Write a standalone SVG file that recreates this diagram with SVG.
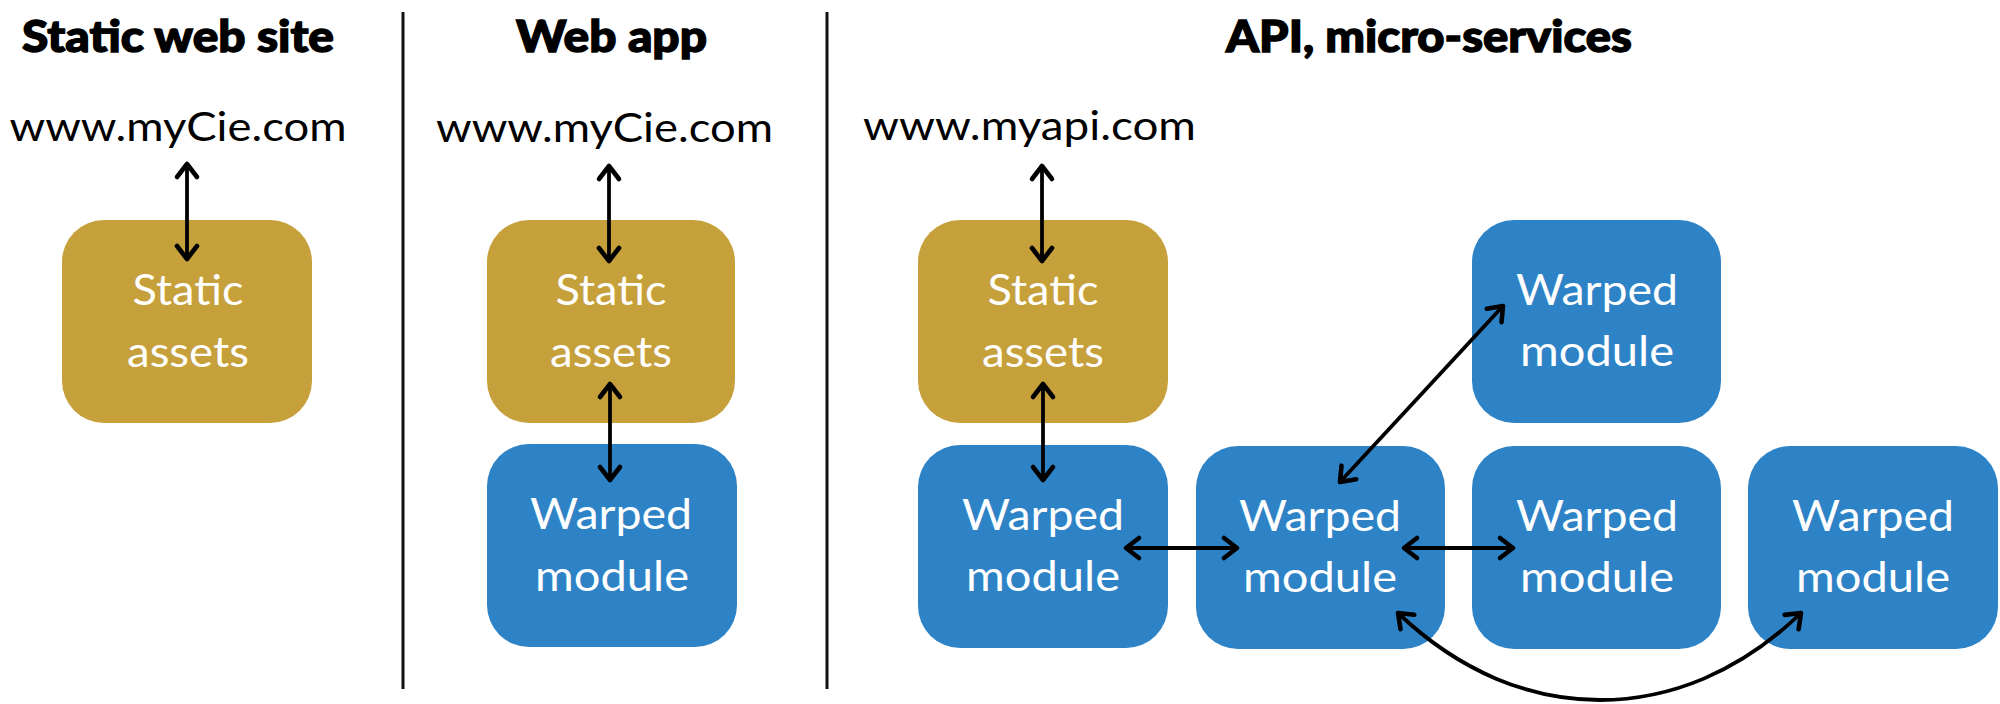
<svg xmlns="http://www.w3.org/2000/svg" width="2000" height="704" viewBox="0 0 2000 704">
<style>
.title{font-family:Lato,"Liberation Sans",sans-serif;font-weight:900;font-size:44px;fill:#000;stroke:#000;stroke-width:1.4;text-anchor:middle}
.url{font-family:Lato,"Liberation Sans",sans-serif;font-size:40px;fill:#000;text-anchor:middle}
.lbl{font-family:Lato,"Liberation Sans",sans-serif;font-size:43px;fill:#fff;text-anchor:middle}
.gold{fill:#C6A03A}
.blue{fill:#2E83C7}
.div{stroke:#111;stroke-width:3}
.conn{stroke:#000;stroke-width:3.8;fill:none;marker-start:url(#ah);marker-end:url(#ah)}
</style>
<defs>
<marker id="ah" viewBox="-18 -14 22 28" markerWidth="22" markerHeight="28" refX="0" refY="0" orient="auto-start-reverse" markerUnits="userSpaceOnUse">
<path d="M-13,-10 L0,0 L-13,10" fill="none" stroke="#000" stroke-width="4.6" stroke-linecap="round" stroke-linejoin="round"/>
</marker>
</defs>
<rect width="2000" height="704" fill="#fff"/>

<g id="dividers">
<line class="div" x1="403" y1="12" x2="403" y2="689"/>
<line class="div" x1="827" y1="12" x2="827" y2="689"/>
</g>

<g id="titles">
<text class="title" x="178" y="52" textLength="312" lengthAdjust="spacingAndGlyphs">Static web site</text>
<text class="title" x="611.5" y="52" textLength="191" lengthAdjust="spacingAndGlyphs">Web app</text>
<text class="title" x="1429" y="52" textLength="406" lengthAdjust="spacingAndGlyphs">API, micro-services</text>
</g>

<g id="url1"><text class="url" x="178" y="141" textLength="337" lengthAdjust="spacingAndGlyphs">www.myCie.com</text></g>
<g id="url2"><text class="url" x="604.5" y="142" textLength="337" lengthAdjust="spacingAndGlyphs">www.myCie.com</text></g>
<g id="url3"><text class="url" x="1029.5" y="140" textLength="333" lengthAdjust="spacingAndGlyphs">www.myapi.com</text></g>

<g id="static1">
<rect class="gold" x="62" y="220" width="250" height="203" rx="42"/>
<text class="lbl" x="188" y="305" textLength="111" lengthAdjust="spacingAndGlyphs">Static</text>
<text class="lbl" x="188" y="367" textLength="122" lengthAdjust="spacingAndGlyphs">assets</text>
</g>
<g id="static2">
<rect class="gold" x="487" y="220" width="248" height="203" rx="42"/>
<text class="lbl" x="611" y="305" textLength="111" lengthAdjust="spacingAndGlyphs">Static</text>
<text class="lbl" x="611" y="367" textLength="122" lengthAdjust="spacingAndGlyphs">assets</text>
</g>
<g id="warped_app">
<rect class="blue" x="487" y="444" width="250" height="203" rx="42"/>
<text class="lbl" x="611" y="529" textLength="162" lengthAdjust="spacingAndGlyphs">Warped</text>
<text class="lbl" x="612" y="591" textLength="154" lengthAdjust="spacingAndGlyphs">module</text>
</g>
<g id="static3">
<rect class="gold" x="918" y="220" width="250" height="203" rx="42"/>
<text class="lbl" x="1043" y="305" textLength="111" lengthAdjust="spacingAndGlyphs">Static</text>
<text class="lbl" x="1043" y="367" textLength="122" lengthAdjust="spacingAndGlyphs">assets</text>
</g>
<g id="warped1">
<rect class="blue" x="918" y="445" width="250" height="203" rx="42"/>
<text class="lbl" x="1043" y="530" textLength="162" lengthAdjust="spacingAndGlyphs">Warped</text>
<text class="lbl" x="1043" y="591" textLength="154" lengthAdjust="spacingAndGlyphs">module</text>
</g>
<g id="warped2">
<rect class="blue" x="1196" y="446" width="249" height="203" rx="42"/>
<text class="lbl" x="1320" y="531" textLength="162" lengthAdjust="spacingAndGlyphs">Warped</text>
<text class="lbl" x="1320" y="592" textLength="154" lengthAdjust="spacingAndGlyphs">module</text>
</g>
<g id="warped3">
<rect class="blue" x="1472" y="220" width="249" height="203" rx="42"/>
<text class="lbl" x="1597" y="305" textLength="162" lengthAdjust="spacingAndGlyphs">Warped</text>
<text class="lbl" x="1597" y="366" textLength="154" lengthAdjust="spacingAndGlyphs">module</text>
</g>
<g id="warped4">
<rect class="blue" x="1472" y="446" width="249" height="203" rx="42"/>
<text class="lbl" x="1597" y="531" textLength="162" lengthAdjust="spacingAndGlyphs">Warped</text>
<text class="lbl" x="1597" y="592" textLength="154" lengthAdjust="spacingAndGlyphs">module</text>
</g>
<g id="warped5">
<rect class="blue" x="1748" y="446" width="250" height="203" rx="42"/>
<text class="lbl" x="1873" y="531" textLength="162" lengthAdjust="spacingAndGlyphs">Warped</text>
<text class="lbl" x="1873" y="592" textLength="154" lengthAdjust="spacingAndGlyphs">module</text>
</g>

<g id="connectors">
<line class="conn" x1="187" y1="164" x2="187" y2="259"/>
<line class="conn" x1="609" y1="166" x2="609" y2="261"/>
<line class="conn" x1="610" y1="384" x2="610" y2="480"/>
<line class="conn" x1="1042" y1="166" x2="1042" y2="261"/>
<line class="conn" x1="1043" y1="384" x2="1043" y2="480"/>
<line class="conn" x1="1126" y1="548" x2="1237" y2="548"/>
<line class="conn" x1="1404" y1="548" x2="1513" y2="548"/>
<line class="conn" x1="1340" y1="482" x2="1503" y2="306"/>
<path class="conn" d="M1398,613 C1460,672 1530,700 1600,700 C1670,700 1740,672 1801,613"/>
</g>
</svg>
